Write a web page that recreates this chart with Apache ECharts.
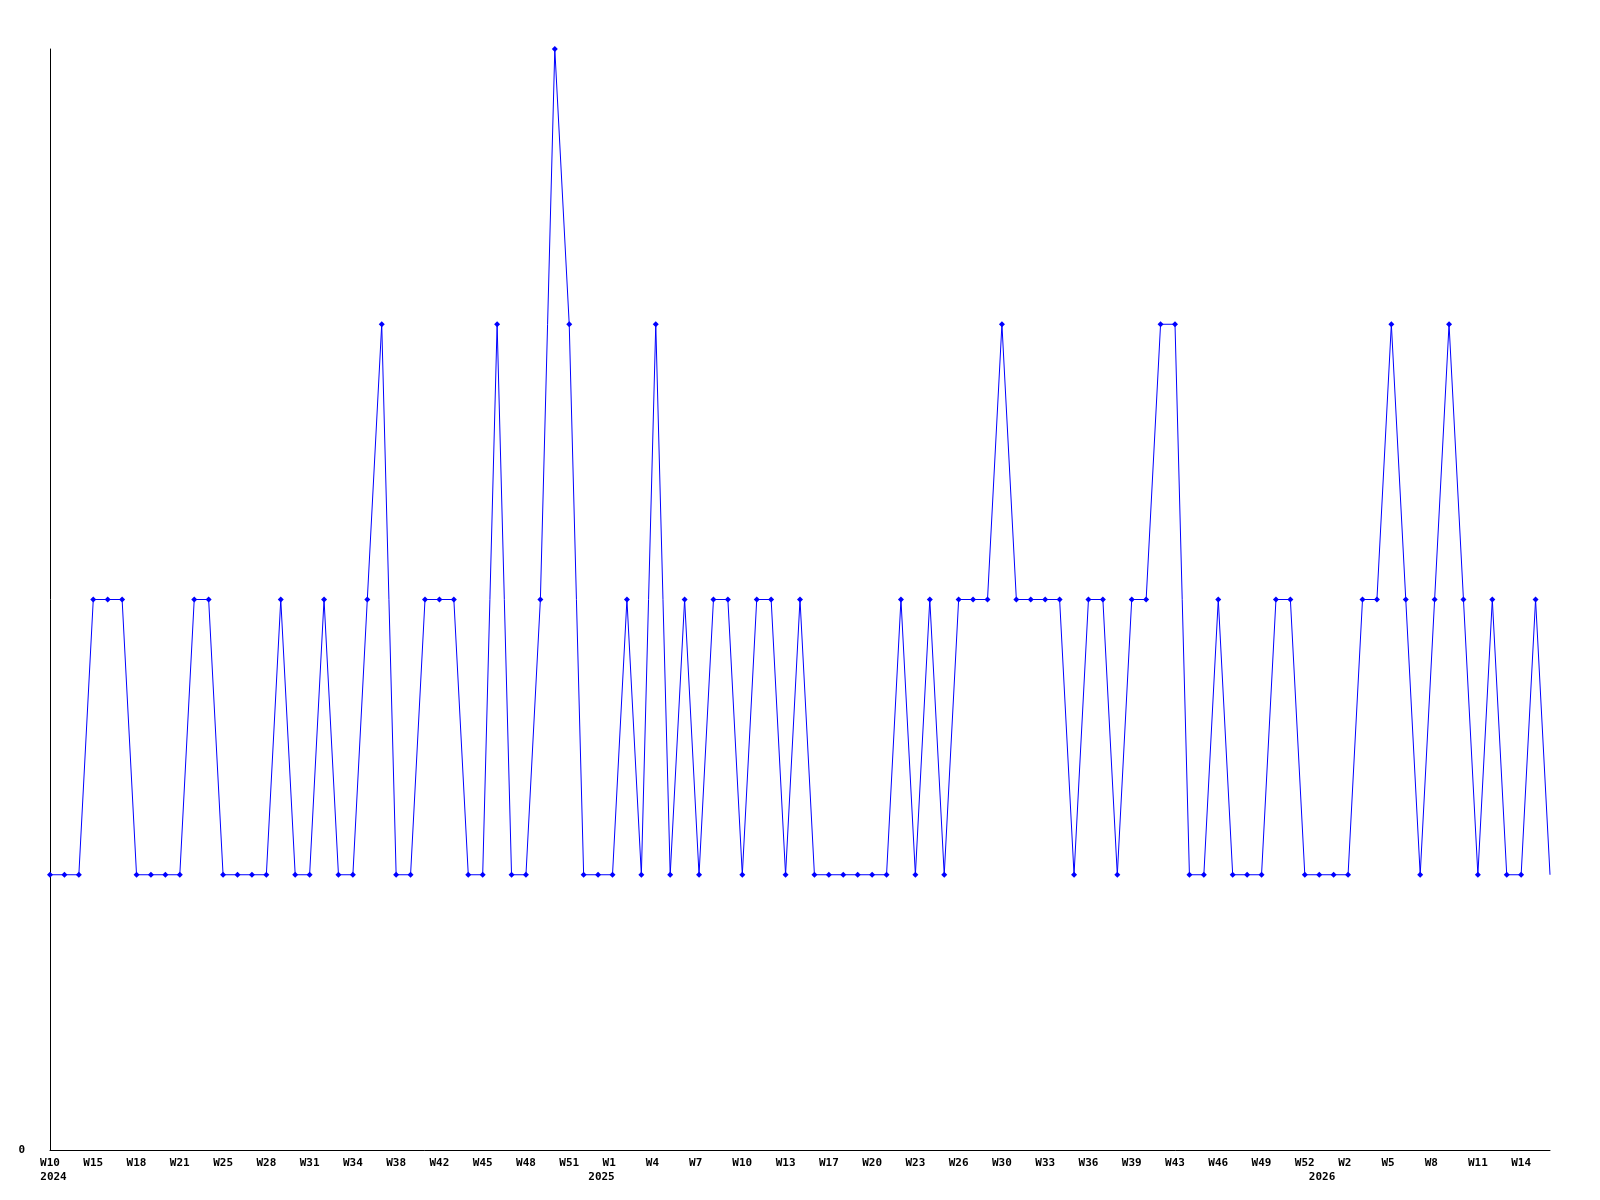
<!DOCTYPE html>
<html>
<head>
<meta charset="utf-8">
<script src="https://cdn.jsdelivr.net/npm/echarts@6/dist/echarts.min.js"></script>
<style>
  html, body { margin: 0; padding: 0; background: #fff; }
  #chart { width: 1600px; height: 1200px; }
</style>
</head>
<body>
<div id="chart"></div>
<script>
// tick labels, one every 3 points
var tickLabels = ["W10", "W15", "W18", "W21", "W25", "W28", "W31", "W34", "W38", "W42",
  "W45", "W48", "W51", "W1", "W4", "W7", "W10", "W13", "W17", "W20",
  "W23", "W26", "W30", "W33", "W36", "W39", "W43", "W46", "W49", "W52",
  "W2", "W5", "W8", "W11", "W14"];
// year shown under these tick labels (index into tickLabels)
var yearLabels = { 0: "2024", 13: "2025", 30: "2026" };

// values, grouped 3 per tick label
var values = [
  1, 1, 1,  2, 2, 2,  1, 1, 1,  1, 2, 2,  1, 1, 1,
  1, 2, 1,  1, 2, 1,  1, 2, 3,  1, 1, 2,  2, 2, 1,
  1, 3, 1,  1, 2, 4,  3, 1, 1,  1, 2, 1,  3, 1, 2,
  1, 2, 2,  1, 2, 2,  1, 2, 1,  1, 1, 1,  1, 1, 2,
  1, 2, 1,  2, 2, 2,  3, 2, 2,  2, 2, 1,  2, 2, 1,
  2, 2, 3,  3, 1, 1,  2, 1, 1,  1, 2, 2,  1, 1, 1,
  1, 2, 2,  3, 2, 1,  2, 3, 2,  1, 2, 1,  1, 2, 1
];

var categories = values.map(function (v, i) { return "p" + i; });

var seriesData = values.map(function (v, i) {
  // last point is drawn without a marker
  if (i === values.length - 1) return { value: v, symbol: "none" };
  return v;
});

var chart = echarts.init(document.getElementById("chart"));
var font = "DejaVu Sans Mono";
var txt = { color: "#000", fontFamily: font, fontWeight: "bold", fontSize: 11, lineHeight: 14 };

chart.setOption({
  animation: false,
  backgroundColor: "#ffffff",
  grid: { left: 50, right: 50, top: 49, bottom: 50, containLabel: false },
  xAxis: {
    type: "category",
    data: categories,
    boundaryGap: false,
    axisLine: { lineStyle: { color: "#000", width: 1 } },
    axisTick: { show: false },
    splitLine: { show: false },
    axisLabel: {
      interval: 2,
      margin: 6,
      color: "#000",
      fontFamily: font,
      fontWeight: "bold",
      fontSize: 11,
      lineHeight: 14,
      rich: {
        wk: txt,
        y0: Object.assign({ padding: [0, 0, 0, 7] }, txt),
        y1: Object.assign({ padding: [0, 22, 0, 0] }, txt),
        y2: Object.assign({ padding: [0, 52, 0, 0] }, txt)
      },
      formatter: function (value, index) {
        var k = index / 3;
        var t = tickLabels[k] || "";
        // labels are laid out in a 3-char cell
        while (t.length < 3) t += " ";
        t = "{wk|" + t + "}";
        if (yearLabels[k]) {
          var s = k === 0 ? "y0" : (k === 13 ? "y1" : "y2");
          t += "\n{" + s + "|" + yearLabels[k] + "}";
        }
        return t;
      }
    }
  },
  yAxis: {
    type: "value",
    min: 0,
    max: 4,
    interval: 1,
    axisLine: { show: true, lineStyle: { color: "#000", width: 1 } },
    axisTick: { show: false },
    splitLine: { show: false },
    axisLabel: {
      margin: 25,
      color: "#000",
      fontFamily: font,
      fontWeight: "bold",
      fontSize: 11,
      formatter: function (v) { return v === 0 ? "0" : ""; }
    }
  },
  series: [{
    type: "line",
    data: seriesData,
    symbol: "diamond",
    symbolSize: [6, 6],
    showAllSymbol: true,
    lineStyle: { color: "#0000ff", width: 1 },
    itemStyle: { color: "#0000ff" }
  }]
});
</script>
</body>
</html>
